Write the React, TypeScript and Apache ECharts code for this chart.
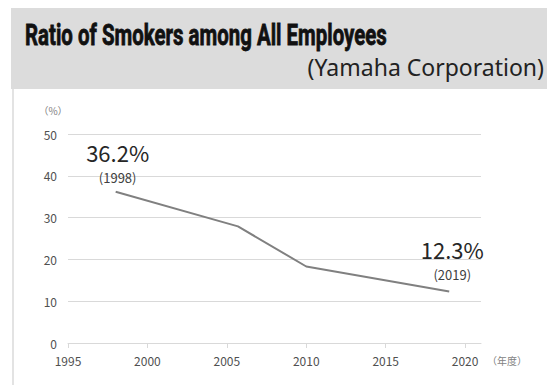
import React, { useEffect, useRef } from "react";
import * as echarts from "echarts";

const years = [1998, 2005.7, 2010, 2019];
const ratios = [36.2, 27.9, 18.3, 12.3];
const xTicks = [1995, 2000, 2005, 2010, 2015, 2020];
const yTicks = [0, 10, 20, 30, 40, 50];
const titleText = "Ratio of Smokers among All Employees";
const subtitleText = "(Yamaha Corporation)";
const yUnit = "（%）";
const xUnit = "（年度）";

export default function App() {
  const ref = useRef<HTMLDivElement>(null);
  useEffect(() => {
    document.body.style.margin = "0";
    const chart = echarts.init(ref.current!, null, { renderer: "svg" });
    const font = "'Noto Sans CJK JP', 'Noto Sans', sans-serif";
    const lastIdx = years.length - 1;
    chart.setOption({
      animation: false,
      backgroundColor: "#ffffff",
      grid: { left: 68, right: 68, top: 134, bottom: 42 },
      xAxis: {
        type: "value",
        min: 1995,
        max: 2021,
        interval: 5,
        splitLine: { show: false },
        axisLine: { show: true, lineStyle: { color: "#d9d9d9", width: 1 } },
        axisTick: { show: true, length: 5, lineStyle: { color: "#d9d9d9" }, customValues: xTicks },
        axisLabel: {
          color: "#505050",
          fontSize: 12,
          fontFamily: font,
          margin: 11,
          customValues: xTicks,
          formatter: (v: number) => String(v),
        },
      },
      yAxis: {
        type: "value",
        min: 0,
        max: 50,
        interval: 10,
        axisLine: { show: false },
        axisTick: { show: false },
        splitLine: { lineStyle: { color: "#d9d9d9", width: 1 } },
        axisLabel: {
          color: "#505050",
          fontSize: 12,
          fontFamily: font,
          margin: 11,
          customValues: yTicks,
        },
      },
      series: [
        {
          type: "line",
          data: years.map((y, i) => [y, ratios[i]]),
          symbol: "none",
          lineStyle: { color: "#808080", width: 2 },
          label: { show: false },
          markPoint: {
            symbol: "circle",
            symbolSize: 0,
            data: [
              {
                coord: [years[0], ratios[0]],
                label: {
                  show: true,
                  position: "top",
                  distance: 5,
                  offset: [2, 0],
                  formatter: `{a|${ratios[0].toFixed(1)}%}\n{b|(${years[0]})}`,
                },
              },
              {
                coord: [years[lastIdx], ratios[lastIdx]],
                label: {
                  show: true,
                  position: "top",
                  distance: 8,
                  offset: [3, 0],
                  formatter: `{a|${ratios[lastIdx].toFixed(1)}%}\n{b|(${years[lastIdx]})}`,
                },
              },
            ],
            label: {
              fontFamily: font,
              rich: {
                a: { fontSize: 22, lineHeight: 31, color: "#262626", fontFamily: font, align: "center" },
                b: { fontSize: 13, lineHeight: 19, color: "#404040", fontFamily: font, align: "center" },
              },
            },
          },
        },
      ],
      graphic: [
        { type: "rect", shape: { x: 11, y: 8, width: 536, height: 81 }, style: { fill: "#dcdcdc" }, silent: true },
        { type: "rect", shape: { x: 12, y: 89, width: 2, height: 296 }, style: { fill: "#e3e3e3" }, silent: true },
        {
          type: "text",
          x: 25,
          y: 35,
          scaleX: 0.705,
          style: {
            text: titleText,
            fontFamily: "'Liberation Sans Narrow', Roboto, sans-serif",
            fontWeight: "bold",
            fontSize: 29,
            fill: "#111111",
            stroke: "#111111",
            lineWidth: 0.8,
            verticalAlign: "middle",
            align: "left",
          },
        },
        {
          type: "text",
          x: 544,
          y: 67,
          style: {
            text: subtitleText,
            fontFamily: "'Noto Sans', sans-serif",
            fontSize: 23,
            fill: "#222222",
            verticalAlign: "middle",
            align: "right",
          },
        },
        {
          type: "text",
          x: 53,
          y: 110,
          style: { text: yUnit, fontFamily: font, fontSize: 10, fill: "#7f7f7f", align: "center", verticalAlign: "middle" },
        },
        {
          type: "text",
          x: 507,
          y: 360,
          style: { text: xUnit, fontFamily: font, fontSize: 10, fill: "#7f7f7f", align: "center", verticalAlign: "middle" },
        },
      ],
    });
    return () => chart.dispose();
  }, []);
  return <div ref={ref} style={{ position: "fixed", left: 0, top: 0, width: 549, height: 385 }} />;
}
